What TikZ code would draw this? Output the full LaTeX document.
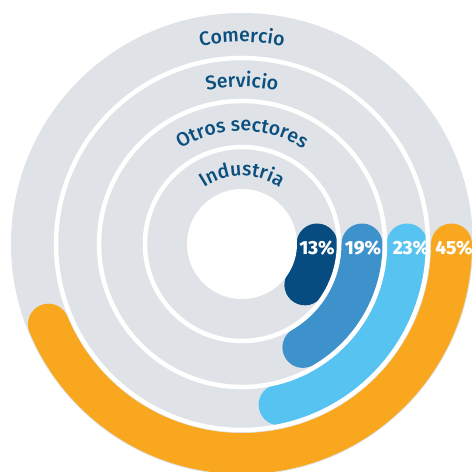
\documentclass[tikz,border=0pt]{standalone}
\usepackage{fontspec}
\setmainfont{Fira Sans}
\newfontfamily\labfam{Fira Sans Medium}
\newfontfamily\pctfam{Fira Sans ExtraBold}
\usetikzlibrary{decorations.text}
\definecolor{ringgray}{HTML}{DFE3E7}
\definecolor{cind}{HTML}{074C80}
\definecolor{cotr}{HTML}{3E92CC}
\definecolor{cser}{HTML}{57C3F0}
\definecolor{ccom}{HTML}{F9A71E}
\definecolor{labblue}{HTML}{0B4F7F}
\newcommand{\labfont}{\labfam\fontsize{19.5}{22}\selectfont}
\begin{document}
\begin{tikzpicture}[x=1pt,y=1pt,
  band/.style={line width=41pt, line cap=round},
  sep/.style={draw=white, line width=4.5pt},
  pct/.style={text=white, font=\pctfam\fontsize{19}{19}\selectfont, inner sep=0pt},
  curvlab/.style={decorate, decoration={text along path, text align=center, text color=labblue, text={|\labfont|#1}}}]
\useasboundingbox (-242,-228) rectangle (230,244);
\clip (-242,-228) rectangle (230,244);
% gray disc
\fill[ringgray] (0,0) circle[radius=231];
% coloured arcs
\draw[band, ccom] (0:209.5) arc[start angle=0, end angle=-157.5, radius=209.5];
\draw[band, cser] (0:165) arc[start angle=0, end angle=-77, radius=165];
\draw[band, cotr] (0:120) arc[start angle=0, end angle=-59.5, radius=120];
\draw[band, cind] (0:75) arc[start angle=0, end angle=-33, radius=75];
% white separators
\draw[sep] (0,0) circle[radius=186];
\draw[sep] (0,0) circle[radius=143];
\draw[sep] (0,0) circle[radius=97];
\fill[white] (0,0) circle[radius=55];
% curved labels
\path[curvlab={Comercio}] (150:202) arc[start angle=150, end angle=30, radius=202];
\path[curvlab={Servicio}] (150:157) arc[start angle=150, end angle=30, radius=157];
\path[curvlab={Otros sectores}] (165:113) arc[start angle=165, end angle=15, radius=113];
\path[curvlab={Industria}] (170:68) arc[start angle=170, end angle=10, radius=68];
% percentages
\node[pct] (p13) at (75,-4) {13\%};
\node[pct] (p19) at (121,-4) {19\%};
\node[pct] (p23) at (169,-4) {23\%};
\node[pct] (p45) at (212,-4) {45\%};
\end{tikzpicture}
\end{document}
